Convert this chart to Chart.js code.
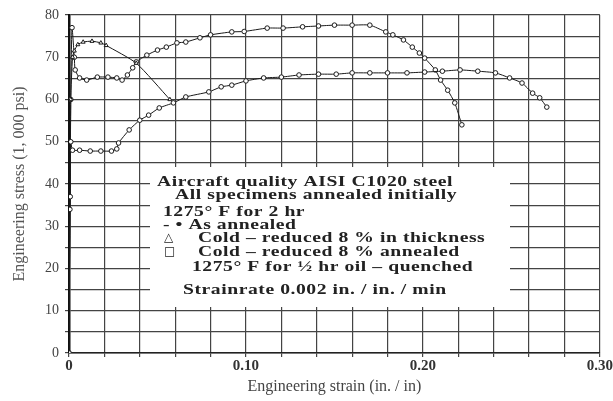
<!DOCTYPE html>
<html>
<head>
<meta charset="utf-8">
<script src="https://cdn.jsdelivr.net/npm/chart.js@4.4.0/dist/chart.umd.min.js"></script>
<style>
html, body { margin: 0; padding: 0; background: #fff; }
</style>
</head>
<body>
<canvas id="myChart" width="613" height="401"></canvas>
<script>
// As annealed
const annealedStrain = [0, 0.0005, 0.0007, 0.001, 0.002, 0.006, 0.012, 0.018, 0.024, 0.027, 0.028, 0.034, 0.040, 0.045, 0.051, 0.059, 0.066, 0.079, 0.086, 0.092, 0.100, 0.110, 0.120, 0.130, 0.141, 0.151, 0.160, 0.170, 0.180, 0.191, 0.201, 0.211, 0.221, 0.231, 0.241, 0.249, 0.256, 0.262, 0.266, 0.270];
const annealedStress = [0, 34, 37, 50, 48, 48, 47.8, 47.8, 47.8, 48.3, 49.7, 52.8, 55.1, 56.3, 58, 59.2, 60.6, 61.8, 63, 63.4, 64.4, 65.1, 65.3, 65.8, 66, 66, 66.3, 66.3, 66.3, 66.3, 66.5, 66.7, 67, 66.7, 66.3, 65.1, 63.9, 61.5, 60.4, 58.2];

// Cold-reduced 8% in thickness
const coldStrain = [0, 0.001, 0.002, 0.003, 0.005, 0.008, 0.013, 0.018, 0.021, 0.038, 0.057];
const coldStress = [0, 60, 70, 71.5, 73, 73.6, 73.8, 73.4, 72.8, 68.6, 60];

// Cold-reduced 8% annealed 1275F 1/2 hr oil-quenched
const quenchStrain = [0, 0.001, 0.0017, 0.003, 0.0035, 0.006, 0.010, 0.016, 0.022, 0.027, 0.030, 0.033, 0.036, 0.038, 0.044, 0.050, 0.055, 0.061, 0.066, 0.074, 0.080, 0.092, 0.099, 0.112, 0.121, 0.132, 0.141, 0.150, 0.160, 0.170, 0.179, 0.183, 0.189, 0.194, 0.198, 0.201, 0.207, 0.210, 0.214, 0.218, 0.222];
const quenchStress = [0, 60, 77, 70, 67, 65.1, 64.6, 65.3, 65.3, 65.1, 64.6, 65.8, 67.5, 68.9, 70.5, 71.7, 72.4, 73.4, 73.6, 74.6, 75.3, 76, 76.1, 76.9, 76.9, 77.2, 77.4, 77.6, 77.6, 77.6, 76, 75.3, 74.1, 72.4, 71, 69.8, 67, 64.6, 62.2, 59.2, 54];

const noteLines = [
    'Aircraft quality AISI C1020 steel',
    'All specimens annealed initially',
    '1275° F for 2 hr',
    '- • As annealed',
    'Cold – reduced 8 % in thickness',
    'Cold – reduced 8 % annealed',
    '1275° F for ½ hr oil – quenched',
    'Strainrate 0.002 in. / in. / min'
];

function toPoints(xs, ys) {
    return xs.map((x, i) => ({ x: x, y: ys[i] }));
}

function series(label, xs, ys, style) {
    return {
        label: label,
        data: toPoints(xs, ys),
        showLine: true,
        borderColor: '#1a1a1a',
        borderWidth: 1,
        tension: 0.2,
        pointStyle: style,
        pointRadius: 2.3,
        pointBorderWidth: 1,
        pointBorderColor: '#1a1a1a',
        pointBackgroundColor: '#fff'
    };
}

const serif = '"Liberation Serif", "DejaVu Serif", serif';

// white note box with the annotation text
const notePlugin = {
    id: 'note',
    beforeDatasetsDraw(chart) {
        const c = chart.ctx;
        c.save();
        c.fillStyle = '#fff';
        c.fillRect(150, 167, 360, 140);
        c.restore();
    },
    afterDraw(chart) {
        const c = chart.ctx;
        c.save();
        c.fillStyle = '#222';
        c.textBaseline = 'middle';
        c.font = 'bold 14px "Liberation Serif", serif';
        c.letterSpacing = '0.4px';
        const k = 296 / c.measureText(noteLines[0]).width;
        const pos = [[157, 182], [175, 195], [163, 212], [163, 225], [198, 238], [198, 252], [192, 267], [183, 290]];
        noteLines.forEach((t, i) => {
            c.save();
            c.translate(pos[i][0], pos[i][1]);
            c.scale(k, 1);
            c.fillText(t, 0, 0);
            c.restore();
        });
        c.letterSpacing = '0px';
        c.font = '12px "DejaVu Sans", sans-serif';
        c.fillText('△', 164, 238);
        c.fillText('□', 164, 252);
        c.restore();
    }
};

const ctx = document.getElementById('myChart');

new Chart(ctx, {
    type: 'scatter',
    data: {
        datasets: [
            series('As annealed', annealedStrain, annealedStress, 'circle'),
            series('Cold-reduced 8% in thickness', coldStrain, coldStress, 'triangle'),
            series('Cold-reduced 8% annealed', quenchStrain, quenchStress, 'circle')
        ]
    },
    options: {
        responsive: false,
        animation: false,
        layout: { padding: { top: 15, right: 13, left: 0, bottom: 0 } },
        plugins: {
            legend: { display: false },
            tooltip: { enabled: false }
        },
        scales: {
            x: {
                type: 'linear',
                min: 0,
                max: 0.30,
                afterFit: function (s) { s.height = 48; },
                ticks: {
                    stepSize: 0.02,
                    autoSkip: false,
                    maxRotation: 0,
                    padding: 0,
                    color: '#333',
                    font: { family: serif, size: 15, weight: 'bold' },
                    callback: function (v) {
                        const n = Math.round(v * 100);
                        if (n % 10 !== 0) return '';
                        return n === 0 ? '0' : (n / 100).toFixed(2);
                    }
                },
                grid: { color: '#444', lineWidth: 1.2, tickLength: 4 },
                border: { color: '#222', width: 1.5 },
                title: {
                    display: true,
                    text: 'Engineering strain (in. / in)',
                    color: '#444',
                    font: { family: serif, size: 16 },
                    padding: { top: 0, bottom: 5 }
                }
            },
            y: {
                min: 0,
                max: 80,
                afterFit: function (s) { s.width = 69; },
                ticks: {
                    stepSize: 5,
                    autoSkip: false,
                    padding: 6,
                    color: '#444',
                    font: { family: serif, size: 14 },
                    callback: function (v) {
                        return v % 10 === 0 ? String(v) : '';
                    }
                },
                grid: { color: '#444', lineWidth: 1.2, tickLength: 4 },
                border: { color: '#111', width: 2.5 },
                title: {
                    display: true,
                    text: 'Engineering stress (1, 000 psi)',
                    color: '#555',
                    font: { family: serif, size: 16 },
                    padding: { top: 10, bottom: 0 }
                }
            }
        }
    },
    plugins: [notePlugin]
});
</script>
</body>
</html>
